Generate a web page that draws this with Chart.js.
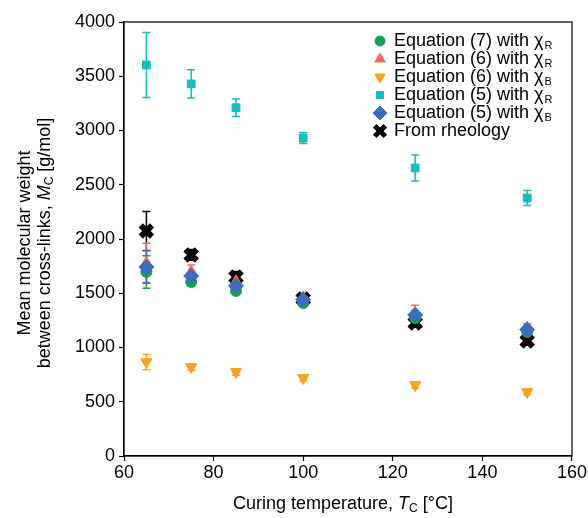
<!DOCTYPE html>
<html>
<head>
<meta charset="utf-8">
<script src="https://cdn.jsdelivr.net/npm/chart.js@4"></script>
<style>
  html, body { margin: 0; padding: 0; background: #fff; }
  #wrap { width: 588px; height: 518px; }
</style>
</head>
<body>
<div id="wrap"><canvas id="c" width="588" height="518"></canvas></div>
<script>
// curing temperatures (°C)
const temps = [65, 75, 85, 100, 125, 150];

// Mc values [g/mol]
const eq7R = [1696, 1604, 1521, 1410, 1272, 1143];
const eq7RErr = [150, 40, 30, 30, 40, 30];
const eq6R = [1780, 1700, 1610, 1460, 1320, 1180];
const eq6RErr = [180, 60, 50, 40, 70, 40];
const eq6B = [866, 820, 774, 719, 654, 590];
const eq6BErr = [70, 30, 30, 25, 30, 25];
const eq5R = [3604, 3429, 3210, 2931, 2654, 2378];
const eq5RErr = [300, 130, 80, 50, 120, 70];
const eq5B = [1742, 1659, 1567, 1440, 1300, 1165];
const eq5BErr = [150, 40, 40, 30, 40, 30];
const rheo = [2074, 1853, 1650, 1447, 1226, 1060];
const rheoErr = [180, 50, 50, 40, 40, 40];

const xTicks = [60, 80, 100, 120, 140, 160];
const yTicks = [0, 500, 1000, 1500, 2000, 2500, 3000, 3500, 4000];

const FONT = '"Liberation Sans", Arial, sans-serif';

function pts(ys) { return temps.map((t, i) => ({ x: t, y: ys[i] })); }

const series = [
  { label: 'Equation (7) with χ', sub: 'R', data: eq7R, err: eq7RErr, color: '#13a14a', style: 'circle', radius: 5.5, rot: 0, order: 2 },
  { label: 'Equation (6) with χ', sub: 'R', data: eq6R, err: eq6RErr, color: '#f06a5c', style: 'triangle', radius: 6.5, rot: 0, order: 3 },
  { label: 'Equation (6) with χ', sub: 'B', data: eq6B, err: eq6BErr, color: '#f9a21f', style: 'triangle', radius: 6.5, rot: 180, order: 4 },
  { label: 'Equation (5) with χ', sub: 'R', data: eq5R, err: eq5RErr, color: '#16bcbc', style: 'rect', radius: 5.5, rot: 0, order: 5 },
  { label: 'Equation (5) with χ', sub: 'B', data: eq5B, err: eq5BErr, color: '#3c6bbf', style: 'rectRot', radius: 7.5, rot: 0, order: 1 },
  { label: 'From rheology', sub: '', data: rheo, err: rheoErr, color: '#000000', style: 'crossRot', radius: 8, rot: 0, order: 6 }
];

// error bars, drawn under the markers
const errorBars = {
  id: 'errorBars',
  beforeDatasetsDraw(chart) {
    const ctx = chart.ctx;
    const xs = chart.scales.x, ys = chart.scales.y;
    ctx.save();
    series.slice().sort((a, b) => b.order - a.order).forEach(s => {
      ctx.strokeStyle = s.color;
      ctx.lineWidth = 1.5;
      s.data.forEach((v, i) => {
        const px = xs.getPixelForValue(temps[i]);
        const top = ys.getPixelForValue(v + s.err[i]);
        const bot = ys.getPixelForValue(v - s.err[i]);
        ctx.beginPath();
        ctx.moveTo(px, top); ctx.lineTo(px, bot);
        ctx.moveTo(px - 4, top); ctx.lineTo(px + 4, top);
        ctx.moveTo(px - 4, bot); ctx.lineTo(px + 4, bot);
        ctx.stroke();
      });
    });
    ctx.restore();
  }
};

// frame, axis titles and legend
const decorations = {
  id: 'decorations',
  afterDraw(chart) {
    const ctx = chart.ctx;
    const a = chart.chartArea;
    ctx.save();
    ctx.strokeStyle = '#000';
    ctx.lineWidth = 1.2;
    ctx.strokeRect(a.left, a.top, a.right - a.left, a.bottom - a.top);

    ctx.fillStyle = '#000';
    // x title
    drawParts(ctx, [
      { t: 'Curing temperature, ', f: '18px ' + FONT, dy: 0 },
      { t: 'T', f: 'italic 18px ' + FONT, dy: 0 },
      { t: 'C', f: '12px ' + FONT, dy: 5 },
      { t: ' [°C]', f: '18px ' + FONT, dy: 0 }
    ], (a.left + a.right) / 2 - 5, 504);

    // y title, two lines rotated
    ctx.save();
    ctx.translate(25, (a.top + a.bottom) / 2 + 4);
    ctx.rotate(-Math.PI / 2);
    drawParts(ctx, [{ t: 'Mean molecular weight', f: '18px ' + FONT, dy: 0 }], 0, 0);
    drawParts(ctx, [
      { t: 'between cross-links, ', f: '18px ' + FONT, dy: 0 },
      { t: 'M', f: 'italic 18px ' + FONT, dy: 0 },
      { t: 'C', f: '12px ' + FONT, dy: 5 },
      { t: ' [g/mol]', f: '18px ' + FONT, dy: 0 }
    ], 0, 20);
    ctx.restore();

    // legend
    const lx = 380, tx = 394;
    let ly = 41;
    series.forEach(s => {
      const bw = s.style === 'crossRot' ? 5 : 1;
      ctx.fillStyle = s.color;
      ctx.strokeStyle = s.color;
      ctx.lineWidth = bw;
      const opts = { pointStyle: s.style, radius: s.radius - 0.5, rotation: s.rot, borderWidth: bw };
      Chart.helpers.drawPoint(ctx, opts, lx, ly);
      ctx.fillStyle = '#000';
      ctx.textAlign = 'left';
      ctx.textBaseline = 'middle';
      ctx.font = '18px ' + FONT;
      ctx.fillText(s.label, tx, ly);
      if (s.sub) {
        const w = ctx.measureText(s.label).width;
        ctx.font = '11px ' + FONT;
        ctx.fillText(s.sub, tx + w + 1, ly + 5);
      }
      ly += 18;
    });
    ctx.restore();
  }
};

function drawParts(ctx, parts, cx, y) {
  let total = 0;
  parts.forEach(p => { ctx.font = p.f; total += ctx.measureText(p.t).width; });
  let x = cx - total / 2;
  ctx.textAlign = 'left';
  ctx.textBaseline = 'middle';
  parts.forEach(p => {
    ctx.font = p.f;
    ctx.fillText(p.t, x, y + p.dy);
    x += ctx.measureText(p.t).width;
  });
}

const chart = new Chart(document.getElementById('c').getContext('2d'), {
  type: 'scatter',
  data: {
    datasets: series.map(s => ({
      label: s.label + s.sub,
      data: pts(s.data),
      order: s.order,
      pointStyle: s.style,
      pointRadius: s.radius,
      pointRotation: s.rot,
      backgroundColor: s.color,
      borderColor: s.color,
      pointBorderWidth: s.style === 'crossRot' ? 6 : 1,
      showLine: false
    }))
  },
  options: {
    responsive: false,
    animation: false,
    layout: { padding: { top: 22, right: 16, left: 0, bottom: 0 } },
    plugins: { legend: { display: false }, tooltip: { enabled: false } },
    scales: {
      x: {
        type: 'linear', min: 60, max: 160,
        afterBuildTicks: s => { s.ticks = xTicks.map(v => ({ value: v })); },
        afterFit: s => { s.height = 62; },
        grid: { drawOnChartArea: false, tickLength: 5, color: '#000', tickWidth: 1.2 },
        border: { color: '#000', width: 1.2 },
        ticks: { color: '#000', font: { family: FONT, size: 18 }, padding: 1, maxRotation: 0, callback: v => String(v) }
      },
      y: {
        type: 'linear', min: 0, max: 4000,
        afterBuildTicks: s => { s.ticks = yTicks.map(v => ({ value: v })); },
        afterFit: s => { s.width = 124; },
        grid: { drawOnChartArea: false, tickLength: 5, color: '#000', tickWidth: 1.2 },
        border: { color: '#000', width: 1.2 },
        ticks: { color: '#000', font: { family: FONT, size: 18 }, padding: 4, callback: v => String(v) }
      }
    }
  },
  plugins: [errorBars, decorations]
});
</script>
</body>
</html>
